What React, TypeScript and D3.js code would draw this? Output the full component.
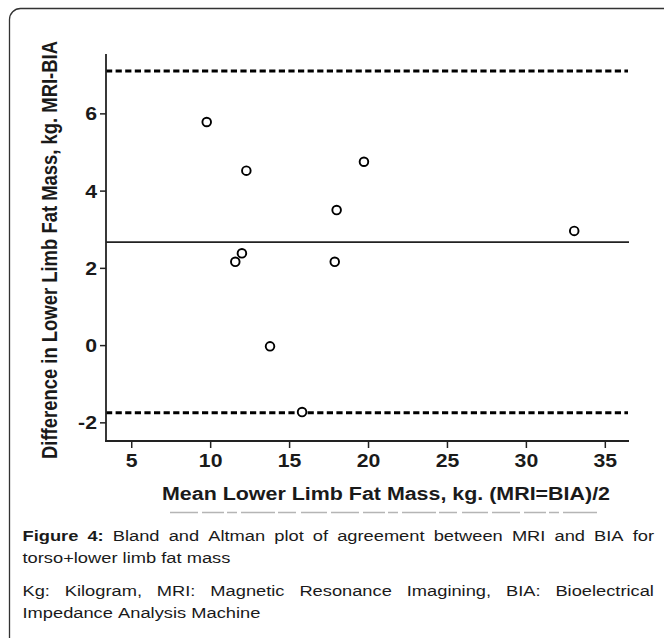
import * as d3 from "d3";
import { useMemo } from "react";

// Bland-Altman: mean of MRI and BIA vs difference (kg)
const meanMass = [9.75, 12.26, 19.71, 17.98, 11.98, 11.56, 17.86, 13.76, 15.79, 33.03];
const diffMass = [5.79, 4.53, 4.76, 3.51, 2.39, 2.17, 2.17, -0.02, -1.72, 2.97];
const bias = 2.68;
const limits = [7.11, -1.74];
const xTicks = [5, 10, 15, 20, 25, 30, 35];
const yTicks = [-2, 0, 2, 4, 6];
const xTitle = "Mean Lower Limb Fat Mass, kg. (MRI=BIA)/2";
const yTitle = "Difference in Lower Limb Fat Mass, kg. MRI-BIA";
const captionLines = [
  { text: "Figure 4:| Bland and Altman plot of agreement between MRI and BIA for", justify: true },
  { text: "torso+lower limb fat mass", justify: false },
  { text: "Kg: Kilogram, MRI: Magnetic Resonance Imagining, BIA: Bioelectrical", justify: true },
  { text: "Impedance Analysis Machine", justify: false },
];

const ink = "#1a1a1a";
const font = '"Liberation Sans", Arial, Helvetica, sans-serif';
const stretch = 1.18;

const App = () => {
  const x = d3.scaleLinear().domain([3.37, 36.5]).range([106, 629]);
  const y = d3.scaleLinear().domain([-2.47, 7.55]).range([441, 54]);

  const caption = useMemo(() => {
    const ctx = document.createElement("canvas").getContext("2d")!;
    const measure = (t: string, bold: boolean) => {
      ctx.font = `${bold ? "bold " : ""}15.5px ${font}`;
      return ctx.measureText(t).width;
    };
    const avail = (654 - 22.5) / stretch;
    const baselines = [541, 563, 596, 618];
    return captionLines.map((line, li) => {
      const [boldPart, rest] = line.text.includes("|") ? line.text.split("|") : ["", line.text];
      const words = [
        ...boldPart.split(" ").filter(Boolean).map((w) => ({ w, bold: true })),
        ...rest.split(" ").filter(Boolean).map((w) => ({ w, bold: false })),
      ];
      const widths = words.map((d) => measure(d.w, d.bold));
      const space = measure(" ", false);
      const gap = line.justify
        ? (avail - d3.sum(widths)) / (words.length - 1)
        : space;
      let cx = 0;
      const placed = words.map((d, i) => {
        const p = { ...d, x: cx };
        cx += widths[i] + gap;
        return p;
      });
      return { y: baselines[li], words: placed };
    });
  }, []);

  return (
    <svg
      width={664}
      height={638}
      style={{ position: "absolute", left: 0, top: 0, background: "#fff" }}
      fontFamily={font}
    >
      <rect x={9.5} y={8.5} width={720} height={720} rx={11} fill="#fff" stroke="#333" strokeWidth={1.3} />

      {/* limits of agreement and bias */}
      {limits.map((v, i) => (
        <line key={i} x1={x.range()[0]} x2={628} y1={y(v)} y2={y(v)}
          stroke="#000" strokeWidth={3} strokeDasharray="6.2 3.4" />
      ))}
      <line x1={x.range()[0]} x2={x.range()[1]} y1={y(bias)} y2={y(bias)} stroke="#222" strokeWidth={1.6} />

      {/* axes */}
      <line x1={106} x2={106} y1={y.range()[1]} y2={y.range()[0]} stroke="#222" strokeWidth={1.8} />
      <line x1={105} x2={x.range()[1]} y1={y.range()[0]} y2={y.range()[0]} stroke="#222" strokeWidth={1.8} />
      {yTicks.map((t) => (
        <g key={t}>
          <line x1={100} x2={106} y1={y(t)} y2={y(t)} stroke="#222" strokeWidth={1.5} />
          <text transform={`translate(97,${y(t) + 6.5}) scale(${stretch},1)`} textAnchor="end"
            fontSize={18} fontWeight="bold" fill={ink}>{t}</text>
        </g>
      ))}
      {xTicks.map((t) => (
        <g key={t}>
          <line x1={x(t)} x2={x(t)} y1={441} y2={448} stroke="#222" strokeWidth={1.5} />
          <text transform={`translate(${x(t)},467) scale(${stretch},1)`} textAnchor="middle"
            fontSize={18} fontWeight="bold" fill={ink}>{t}</text>
        </g>
      ))}

      <text x={162} y={500} fontSize={18} fontWeight="bold" fill={ink}
        textLength={448} lengthAdjust="spacingAndGlyphs">{xTitle}</text>
      <text transform={`translate(57,250) scale(${stretch},1) rotate(-90)`} textAnchor="middle"
        fontSize={18} fontWeight="bold" fill={ink} textLength={418} lengthAdjust="spacingAndGlyphs">{yTitle}</text>

      {/* cut-off line of text under the axis title */}
      <line x1={170} x2={600} y1={512.5} y2={512.5} stroke="#b5b5b5" strokeWidth={1.3}
        strokeDasharray="28 4 22 3 10 4 34 3 18 5 26 4" />

      {/* points */}
      {meanMass.map((m, i) => (
        <circle key={i} cx={x(m)} cy={y(diffMass[i])} r={4.3} fill="#fff" stroke="#000" strokeWidth={1.9} />
      ))}

      {/* caption */}
      {caption.map((line, li) => (
        <g key={li} transform={`translate(22.5,${line.y}) scale(${stretch},1)`}>
          {line.words.map((w, wi) => (
            <text key={wi} x={w.x} fontSize={15.5} fontWeight={w.bold ? "bold" : "normal"} fill={ink}>
              {w.w}
            </text>
          ))}
        </g>
      ))}
    </svg>
  );
};

export default App;
